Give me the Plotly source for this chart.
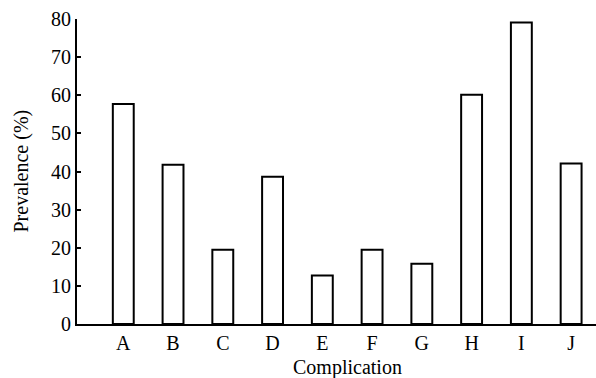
import plotly.graph_objects as go

categories = ["A", "B", "C", "D", "E", "F", "G", "H", "I", "J"]
prevalence = [57.7, 41.8, 19.5, 38.6, 12.7, 19.5, 15.8, 60.1, 79.1, 42.1]
y_ticks = [0, 10, 20, 30, 40, 50, 60, 70, 80]

FONT = "Liberation Serif, Times New Roman, serif"

fig = go.Figure(
    go.Bar(
        x=categories,
        y=prevalence,
        width=0.42,
        marker=dict(color="white", line=dict(color="black", width=2)),
    )
)

fig.update_layout(
    width=596,
    height=378,
    margin=dict(l=77, r=0, t=19, b=54),
    paper_bgcolor="white",
    plot_bgcolor="white",
    font=dict(family=FONT, size=20, color="black"),
    showlegend=False,
)

fig.update_xaxes(
    type="category",
    range=[-0.93, 9.5],
    automargin=False,
    showline=True,
    linecolor="black",
    linewidth=2,
    ticks="",
    showgrid=False,
    zeroline=False,
    tickfont=dict(family=FONT, size=20),
)

fig.update_yaxes(
    range=[0, 80],
    tickvals=y_ticks,
    automargin=False,
    showline=True,
    linecolor="black",
    linewidth=2,
    ticks="inside",
    ticklen=4,
    tickwidth=2,
    tickcolor="black",
    showgrid=False,
    zeroline=False,
    tickfont=dict(family=FONT, size=20),
)

fig.add_annotation(
    text="Complication", xref="paper", yref="paper",
    x=(4.5 + 0.93) / 10.43, y=0, yshift=-43, xanchor="center", yanchor="middle",
    showarrow=False, font=dict(family=FONT, size=20),
)
fig.add_annotation(
    text="Prevalence (%)", xref="paper", yref="paper",
    x=0, y=0.5, xshift=-56, textangle=-90, xanchor="center", yanchor="middle",
    showarrow=False, font=dict(family=FONT, size=20),
)

fig.write_html(
    "out.html",
    config={"displayModeBar": False},
    post_script="document.body.style.margin='0';document.body.style.padding='0';",
)
